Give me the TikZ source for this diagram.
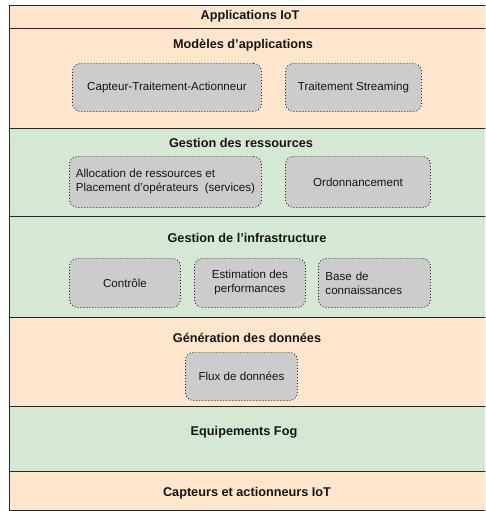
\documentclass[tikz,border=0pt]{standalone}
\usepackage{fontspec}
\setmainfont{Liberation Sans}
\begin{document}
\definecolor{peach}{HTML}{FFE6CC}
\definecolor{sage}{HTML}{D5E8D4}
\definecolor{boxgray}{HTML}{CCCCCC}
\definecolor{edge}{HTML}{262626}
\definecolor{ink}{HTML}{151515}
\begin{tikzpicture}[x=1pt,y=-1pt,
  layer/.style={draw=edge, line width=1.4pt, anchor=north west, inner sep=0pt,
    minimum width=483pt},
  title/.style={font=\fontsize{12.7}{15}\selectfont\bfseries, text=ink, inner sep=0pt},
  block/.style={draw=edge, fill=boxgray, rounded corners=8pt, line width=0.9pt,
    dash pattern=on 0.9pt off 2.1pt, inner sep=0pt, anchor=north west,
    font=\fontsize{11.6}{14}\selectfont, text=ink}]
  \clip (0,0) rectangle (485,511);
  % stacked layers, top to bottom
  \node[layer, fill=peach, minimum height=23pt]  (lapp)  at (9,5)   {};
  \node[layer, fill=peach, minimum height=100pt] (lmod)  at (9,28)  {};
  \node[layer, fill=sage,  minimum height=88pt]  (lres)  at (9,128) {};
  \node[layer, fill=sage,  minimum height=101pt] (linf)  at (9,216) {};
  \node[layer, fill=peach, minimum height=89pt]  (lgen)  at (9,317) {};
  \node[layer, fill=sage,  minimum height=65pt]  (lfog)  at (9,406) {};
  \node[layer, fill=peach, minimum height=39pt]  (lcap)  at (9,471) {};
  % layer titles
  \node[title] (tapp) at (250,16.5) {Applications IoT};
  \node[title] (tmod) at (243,45)   {Modèles d’applications};
  \node[title] (tres) at (241,143)  {Gestion des ressources};
  \node[title] (tinf) at (247,238)  {Gestion de l’infrastructure};
  \node[title] (tgen) at (247,338)  {Génération des données};
  \node[title] (tfog) at (244,432)  {Equipements Fog};
  \node[title] (tcap) at (247,493)  {Capteurs et actionneurs IoT};
  % component blocks
  \node[block, minimum width=189pt, minimum height=48pt] (bcta) at (72,63)
    {Capteur-Traitement-Actionneur};
  \node[block, minimum width=136pt, minimum height=48pt] (bstr) at (285,63)
    {Traitement Streaming};
  \node[block, minimum width=192pt, minimum height=51pt, align=left] (ball) at (69,156)
    {Allocation de ressources et\\Placement d'opérateurs\ \ (services)};
  \node[block, minimum width=145pt, minimum height=51pt] (bord) at (285,156)
    {Ordonnancement};
  \node[block, minimum width=111pt, minimum height=49pt] (bctl) at (69,258)
    {Contrôle};
  \node[block, minimum width=111pt, minimum height=49pt, align=center] (best) at (194,258)
    {Estimation des\\performances};
  \node[block, minimum height=49pt, inner xsep=7pt, text width=98pt, align=left] (bbase) at (318,258)
    {Base de\\connaissances};
  \node[block, minimum width=112pt, minimum height=48pt] (bflux) at (185,352)
    {Flux de données};
\end{tikzpicture}
\end{document}
